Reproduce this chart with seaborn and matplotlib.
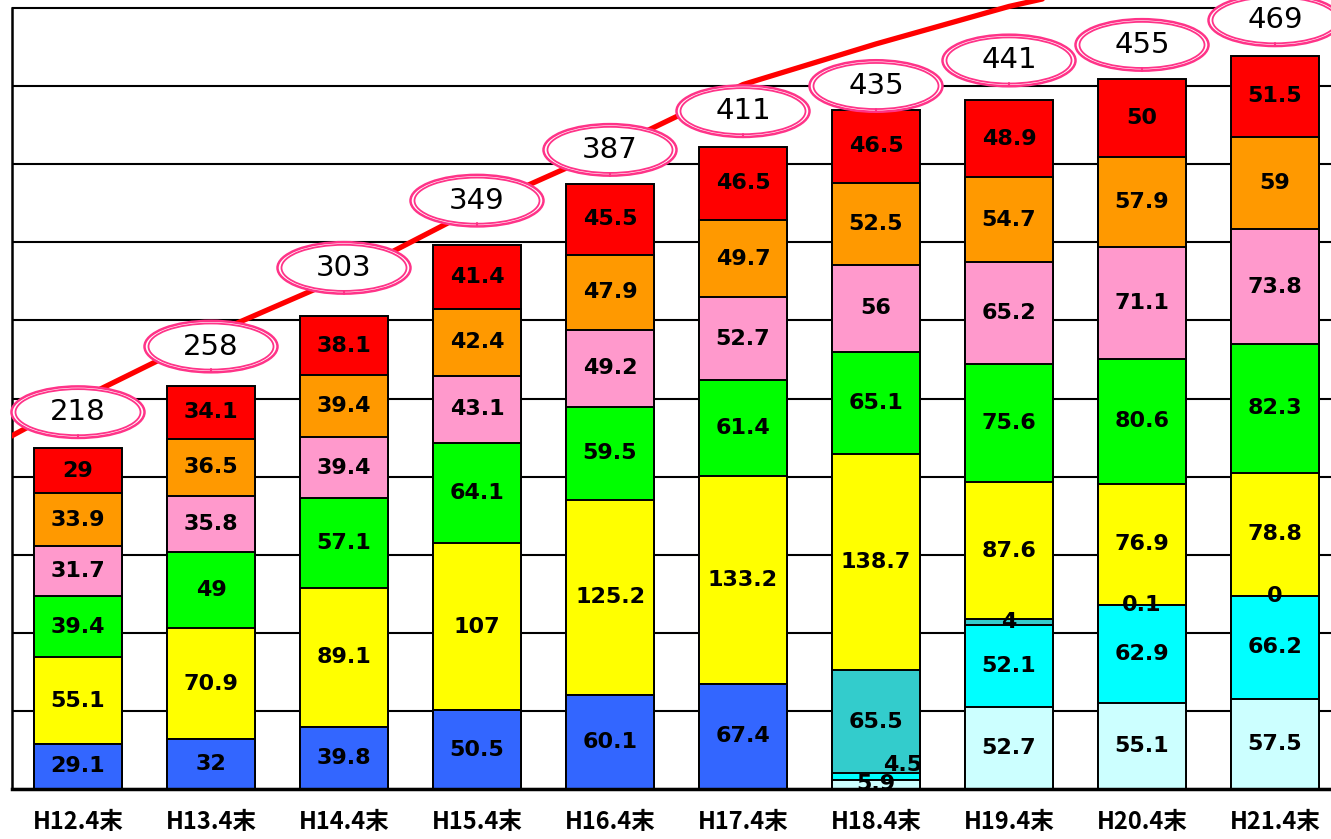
import matplotlib
matplotlib.use("Agg")
import numpy as np
import matplotlib.pyplot as plt
from matplotlib.patches import Ellipse
import seaborn as sns

# data
periods = ["H12.4末", "H13.4末", "H14.4末", "H15.4末", "H16.4末",
           "H17.4末", "H18.4末", "H19.4末", "H20.4末", "H21.4末"]

nan = np.nan
blue   = [29.1, 32, 39.8, 50.5, 60.1, 67.4, nan, nan, nan, nan]
lcyan  = [nan, nan, nan, nan, nan, nan, 5.9, 52.7, 55.1, 57.5]
cyan   = [nan, nan, nan, nan, nan, nan, 4.5, 52.1, 62.9, 66.2]
teal   = [nan, nan, nan, nan, nan, nan, 65.5, 4, 0.1, 0]
yellow = [55.1, 70.9, 89.1, 107, 125.2, 133.2, 138.7, 87.6, 76.9, 78.8]
green  = [39.4, 49, 57.1, 64.1, 59.5, 61.4, 65.1, 75.6, 80.6, 82.3]
pink   = [31.7, 35.8, 39.4, 43.1, 49.2, 52.7, 56, 65.2, 71.1, 73.8]
orange = [33.9, 36.5, 39.4, 42.4, 47.9, 49.7, 52.5, 54.7, 57.9, 59]
red    = [29, 34.1, 38.1, 41.4, 45.5, 46.5, 46.5, 48.9, 50, 51.5]

totals = [218, 258, 303, 349, 387, 411, 435, 441, 455, 469]

# red curve (the point before H12 is only the tail entering at the left edge)
line_prev = 203
line_vals = [249, 291, 328, 372, 410, 451, 477, 501, 520, 537]

layers = [blue, lcyan, cyan, teal, yellow, green, pink, orange, red]
colors = ["#3366FF", "#CCFFFF", "#00FFFF", "#33CCCC", "#FFFF00",
          "#00FF00", "#FF99CC", "#FF9900", "#FF0000"]

# how far each ellipse floats above its bar (pixels, hand placed in the original)
ellipse_lift_px = [36, 39, 48, 44, 34, 36, 24, 40, 34, 36]

sns.set_style("white")
fig = plt.figure(figsize=(13.31, 8.39), dpi=100)
ax = fig.add_axes([11.5 / 1331, 50 / 839, 1330 / 1331, 789 / 839])

px_per_unit = 781 / 500
top = 789 / px_per_unit

# stacked bars: draw cumulative heights from the top layer down
arr = np.nan_to_num(np.array(layers, dtype=float))
cum = np.cumsum(arr, axis=0)
for k in range(len(layers) - 1, -1, -1):
    sns.barplot(x=periods, y=cum[k], color=colors[k], saturation=1,
                width=0.66, edgecolor="black", linewidth=1.4,
                errorbar=None, ax=ax, zorder=2)

# segment labels
for k, layer in enumerate(layers):
    for i, v in enumerate(layer):
        if np.isnan(v):
            continue
        y = cum[k][i] - v / 2
        x = i
        if k == 2 and i == 6:   # 4.5 sits beside the 5.9 label
            x += 0.2
            y += 7
        ax.text(x, y, f"{v:g}", ha="center", va="center", fontsize=16,
                fontweight="bold", color="black", zorder=5)

# red line
xs = [-1] + list(range(len(periods)))
ys = [line_prev] + line_vals
sns.lineplot(x=xs, y=ys, color="#FF0000", linewidth=3.8, ax=ax, zorder=3)

# total labels in double pink ellipses
for i, t in enumerate(totals):
    cy = cum[-1][i] + ellipse_lift_px[i] / px_per_unit
    for w, h, lw in [(1.0, 33, 1.8), (0.94, 29.5, 1.3)]:
        e = Ellipse((i, cy), w, h, facecolor="white", edgecolor="#FF3388",
                    linewidth=lw, zorder=6, clip_on=False)
        ax.add_patch(e)
    ax.plot([i, i], [cy - 16.5, cy - 14.5], color="#FF3388", lw=1.5,
            zorder=6, clip_on=False)
    ax.text(i, cy, str(t), ha="center", va="center", fontsize=21,
            color="black", zorder=7, clip_on=False)

ax.set_xlim(-0.5, len(periods) - 0.5)
ax.set_ylim(0, top)
ax.set_yticks(range(0, 501, 50))
ax.grid(axis="y", color="black", linewidth=1.5)
ax.set_axisbelow(True)
ax.tick_params(axis="y", length=0, labelleft=False)
ax.tick_params(axis="x", length=0, pad=15, labelcolor="black")
ax.set_xticks(range(len(periods)))
ax.set_xticklabels(periods, fontsize=17, fontweight="bold", color="black",
                   family=["Noto Sans CJK JP", "DejaVu Sans"])
ax.set_xlabel("")
ax.set_ylabel("")
for s in ["top", "right"]:
    ax.spines[s].set_visible(False)
ax.spines["left"].set_bounds(0, 500)
ax.spines["left"].set_color("black")
ax.spines["left"].set_linewidth(1.8)
ax.spines["bottom"].set_color("black")
ax.spines["bottom"].set_linewidth(2.5)
ax.spines["bottom"].set_zorder(4)

plt.savefig("out.png", dpi=100)
plt.close()
